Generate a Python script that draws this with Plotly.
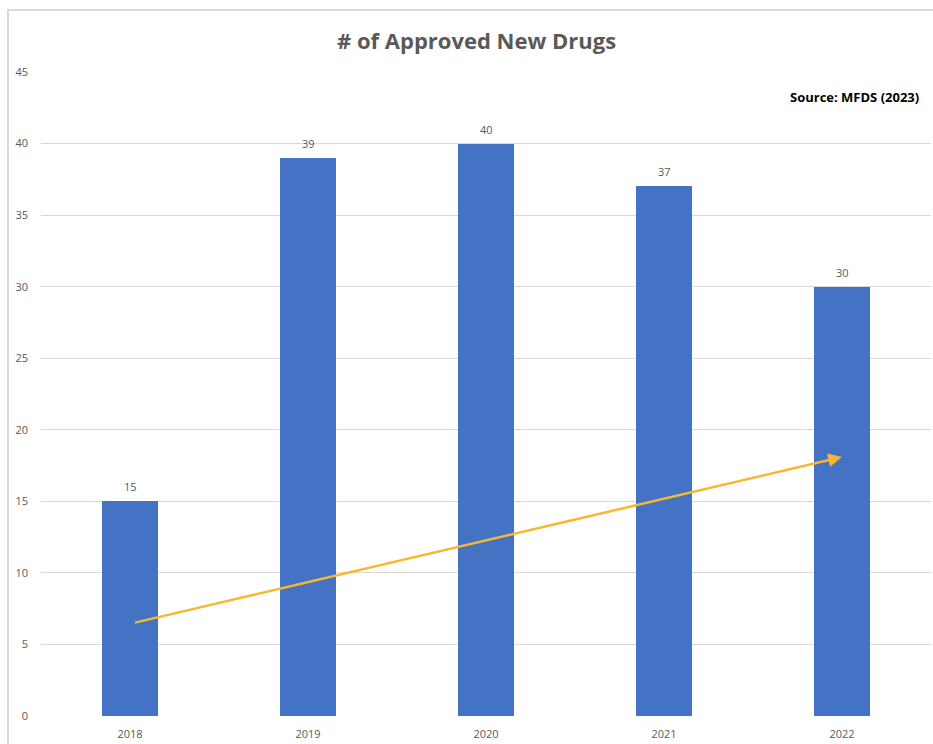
import plotly.graph_objects as go

years = ["2018", "2019", "2020", "2021", "2022"]
approved = [15, 39, 40, 37, 30]
y_ticks = [0, 5, 10, 15, 20, 25, 30, 35, 40, 45]
# hand-drawn trend arrow (start/end in data units)
arrow_x = [0.02, 4.0]
arrow_y = [6.5, 18.1]

W, H = 933, 744
L, R, T, B = 41, 2, 72, 28
plot_w = W - L - R
plot_h = H - T - B

xs = list(range(len(years)))
gray = "#595959"
font = "Open Sans"

fig = go.Figure()
fig.add_trace(go.Bar(
    x=xs, y=approved, marker=dict(color="#4472C4", line=dict(width=0)),
    width=0.315, hoverinfo="x+y",
))

annotations = []
for x, v in zip(xs, approved):
    annotations.append(dict(
        x=x, y=v, xref="x", yref="y", text=str(v), showarrow=False,
        yanchor="bottom", yshift=5, font=dict(family=font, size=11, color=gray),
    ))
annotations.append(dict(
    x=arrow_x[1], y=arrow_y[1], ax=arrow_x[0], ay=arrow_y[0],
    xref="x", yref="y", axref="x", ayref="y", text="", showarrow=True,
    arrowhead=2, arrowsize=1.1, arrowwidth=2.5, arrowcolor="#F5B82E",
))
annotations.append(dict(
    x=(476 - L) / plot_w, y=1 + (T - 40) / plot_h,
    xref="paper", yref="paper", text="<b># of Approved New Drugs</b>",
    showarrow=False, xanchor="center", yanchor="middle",
    font=dict(family=font, size=22, color=gray),
))
annotations.append(dict(
    x=(921 - L) / plot_w, y=(H - B - 97) / plot_h, xref="paper", yref="paper",
    text="<b>Source: MFDS (2023)</b>", showarrow=False,
    xanchor="right", yanchor="middle",
    font=dict(family=font, size=13, color="#000000"),
))

shapes = [
    # outer frame edges (top and left)
    dict(type="line", xref="paper", yref="paper",
         x0=(7 - L) / plot_w, x1=(W - L) / plot_w,
         y0=(H - B - 10) / plot_h, y1=(H - B - 10) / plot_h,
         line=dict(color="#D9D9D9", width=2)),
    dict(type="line", xref="paper", yref="paper",
         x0=(8 - L) / plot_w, x1=(8 - L) / plot_w,
         y0=(H - B - 10) / plot_h, y1=(H - B - H) / plot_h,
         line=dict(color="#D9D9D9", width=2)),
]

fig.update_layout(
    width=W, height=H,
    margin=dict(l=L, r=R, t=T, b=B, pad=0),
    paper_bgcolor="white", plot_bgcolor="white",
    showlegend=False,
    annotations=annotations,
    shapes=shapes,
    bargap=0,
    xaxis=dict(
        tickvals=xs, ticktext=years, range=[-0.5, len(years) - 0.5],
        showgrid=False, zeroline=False, showline=False, ticks="",
        tickfont=dict(family=font, size=11, color=gray), ticklen=0,
        ticklabelstandoff=10,
    ),
    yaxis=dict(
        range=[0, 45], tickvals=y_ticks, showgrid=True, gridcolor="#D9D9D9",
        gridwidth=1, zeroline=False, showline=False, ticks="",
        tickfont=dict(family=font, size=11, color=gray),
        ticklabelstandoff=12,
    ),
)

fig.write_html("out.html")
